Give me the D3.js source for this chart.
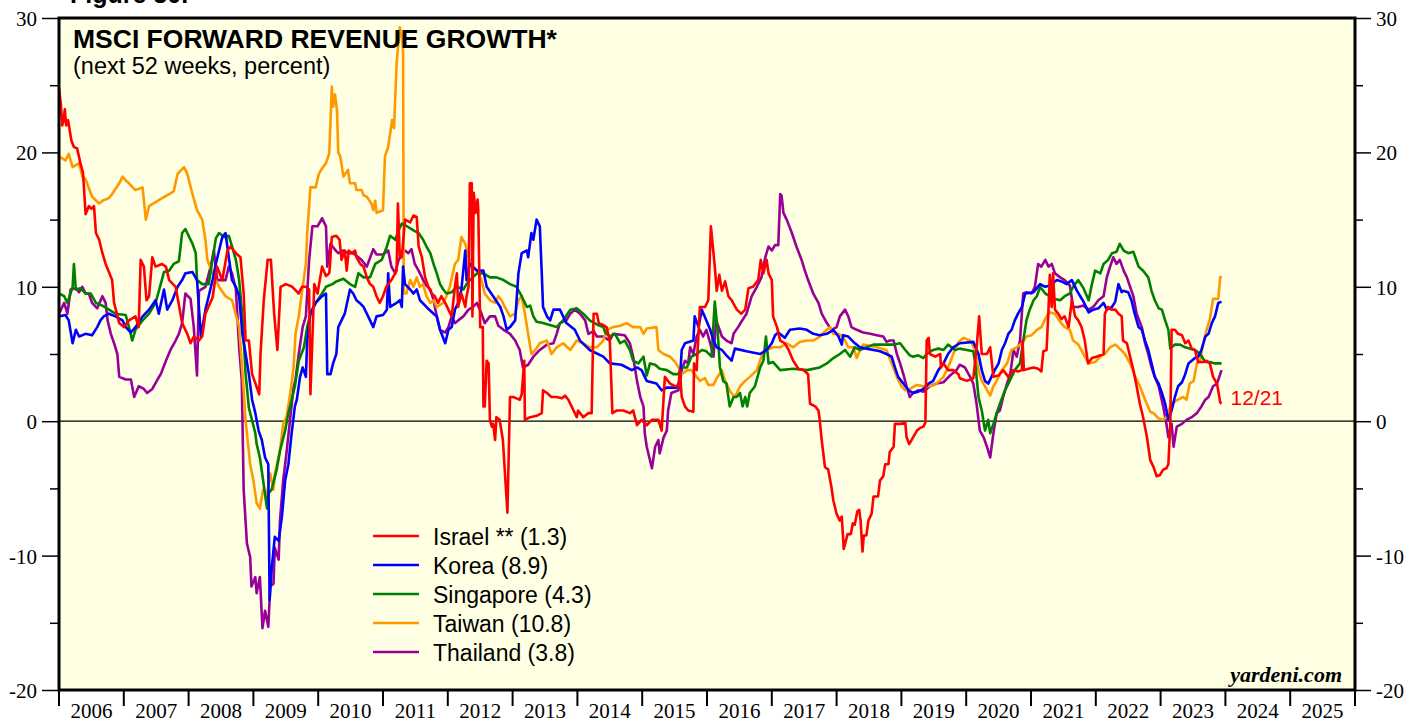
<!DOCTYPE html>
<html lang="en">
<head>
  <meta charset="UTF-8">
  <title>MSCI Forward Revenue Growth</title>
  <script src="https://d3js.org/d3.v7.min.js"></script>
  <style>
    body {
      margin: 0;
      background: #fff;
    }
    svg {
      display: block;
    }
    .axis-label {
      font-family: 'Liberation Serif', 'Times New Roman', serif;
      font-size: 21px;
      fill: #000;
    }
    .sans {
      font-family: 'Liberation Sans', Arial, sans-serif;
    }
  </style>
</head>
<body>
  <svg width="1406" height="719"></svg>

  <script>
    // series: [year fraction, percent]
    const israel = [
      [2006.00,24.8],[2006.03,23.5],[2006.05,22.0],[2006.07,22.4],[2006.09,23.2],[2006.11,22.0],[2006.14,22.4],[2006.19,20.9],
      [2006.23,20.4],[2006.28,20.3],[2006.33,19.2],[2006.37,18.5],[2006.39,17.0],[2006.41,15.4],[2006.46,16.0],[2006.50,15.8],
      [2006.54,16.0],[2006.57,14.0],[2006.62,13.5],[2006.67,12.5],[2006.72,11.7],[2006.82,10.5],[2006.85,8.8],[2006.93,7.3],
      [2007.00,7.0],[2007.08,7.5],[2007.18,7.8],[2007.23,7.0],[2007.26,12.0],[2007.31,11.5],[2007.35,9.0],[2007.39,9.3],
      [2007.44,12.2],[2007.49,11.5],[2007.59,11.7],[2007.65,11.5],[2007.70,10.5],[2007.80,10.0],[2007.90,7.3],[2007.98,6.5],
      [2008.03,5.8],[2008.08,6.3],[2008.16,6.0],[2008.21,6.3],[2008.26,8.0],[2008.37,9.2],[2008.44,11.5],[2008.52,10.5],
      [2008.60,12.7],[2008.65,13.0],[2008.73,12.5],[2008.80,12.2],[2008.85,9.5],[2008.88,6.0],[2008.93,6.0],[2008.98,3.5],
      [2009.09,2.0],[2009.11,5.0],[2009.16,9.0],[2009.22,12.0],[2009.27,12.0],[2009.32,8.0],[2009.37,5.3],[2009.42,10.0],
      [2009.50,10.2],[2009.60,10.0],[2009.70,9.5],[2009.75,10.0],[2009.81,10.0],[2009.86,9.8],[2009.88,2.0],[2009.94,10.2],
      [2009.99,9.5],[2010.06,11.5],[2010.12,10.8],[2010.17,11.0],[2010.18,11.5],[2010.21,13.7],[2010.28,13.8],[2010.33,13.5],
      [2010.36,12.0],[2010.41,12.7],[2010.44,11.2],[2010.47,12.7],[2010.52,12.5],[2010.57,12.7],[2010.59,12.2],[2010.65,11.7],
      [2010.70,11.5],[2010.75,10.7],[2010.80,10.2],[2010.85,10.0],[2010.90,9.3],[2010.95,8.8],[2011.00,9.3],[2011.05,10.0],
      [2011.13,10.5],[2011.21,11.2],[2011.23,16.2],[2011.26,12.2],[2011.29,12.2],[2011.34,15.0],[2011.42,14.8],[2011.47,15.3],
      [2011.52,15.2],[2011.55,13.0],[2011.60,12.2],[2011.65,10.7],[2011.70,10.0],[2011.75,9.5],[2011.80,9.3],[2011.85,8.8],
      [2011.90,9.3],[2011.96,8.8],[2012.01,8.3],[2012.06,7.8],[2012.11,10.0],[2012.14,11.0],[2012.16,8.5],[2012.21,9.5],
      [2012.27,8.5],[2012.29,9.3],[2012.32,10.0],[2012.34,17.7],[2012.37,17.7],[2012.38,7.8],[2012.40,17.0],[2012.43,15.5],
      [2012.46,16.5],[2012.47,15.7],[2012.50,7.0],[2012.54,7.0],[2012.55,1.1],[2012.57,1.1],[2012.60,4.5],[2012.63,4.3],
      [2012.65,0.1],[2012.68,-0.4],[2012.70,-0.2],[2012.73,-1.4],[2012.75,0.3],[2012.80,0.1],[2012.85,-1.4],[2012.92,-6.8],
      [2012.96,1.8],[2013.01,1.8],[2013.06,1.7],[2013.11,1.6],[2013.14,2.0],[2013.18,4.5],[2013.19,0.1],[2013.27,0.3],
      [2013.37,0.4],[2013.45,0.6],[2013.47,2.3],[2013.53,2.1],[2013.60,1.8],[2013.68,1.8],[2013.76,1.7],[2013.81,1.9],
      [2013.86,1.6],[2013.91,1.1],[2013.99,0.3],[2014.01,0.8],[2014.09,0.3],[2014.17,0.6],[2014.22,0.6],[2014.25,8.0],
      [2014.30,8.0],[2014.33,7.3],[2014.38,7.2],[2014.45,7.0],[2014.50,6.0],[2014.54,0.6],[2014.61,0.8],[2014.71,0.8],
      [2014.81,0.6],[2014.86,0.8],[2014.92,-0.3],[2014.99,0.1],[2015.07,-0.3],[2015.15,0.1],[2015.25,0.1],[2015.30,-0.7],
      [2015.35,3.3],[2015.43,2.8],[2015.51,2.6],[2015.56,2.6],[2015.58,3.8],[2015.61,1.8],[2015.66,1.1],[2015.71,0.8],
      [2015.79,0.7],[2015.80,4.3],[2015.84,3.8],[2015.89,8.5],[2015.97,8.5],[2016.02,9.0],[2016.06,14.5],[2016.12,11.5],
      [2016.15,9.7],[2016.19,10.9],[2016.23,9.7],[2016.28,10.4],[2016.33,9.3],[2016.38,9.0],[2016.46,8.3],[2016.53,8.0],
      [2016.59,8.3],[2016.64,9.9],[2016.71,10.0],[2016.79,10.5],[2016.83,12.0],[2016.87,11.0],[2016.92,12.0],[2016.95,11.0],
      [2017.00,10.5],[2017.02,7.8],[2017.08,7.0],[2017.13,6.0],[2017.20,5.8],[2017.26,5.3],[2017.33,4.5],[2017.41,3.9],
      [2017.49,3.8],[2017.56,3.5],[2017.59,1.3],[2017.67,1.1],[2017.72,0.8],[2017.74,0.1],[2017.77,-1.4],[2017.82,-3.4],
      [2017.87,-3.6],[2017.92,-4.9],[2017.95,-5.9],[2018.00,-6.9],[2018.05,-7.4],[2018.08,-7.1],[2018.11,-9.5],[2018.17,-8.4],
      [2018.22,-8.4],[2018.25,-7.6],[2018.28,-7.7],[2018.32,-6.7],[2018.35,-6.6],[2018.37,-7.4],[2018.40,-9.7],[2018.42,-8.5],
      [2018.46,-8.5],[2018.49,-7.4],[2018.54,-6.9],[2018.57,-5.6],[2018.64,-5.6],[2018.67,-4.4],[2018.72,-4.1],[2018.75,-3.2],
      [2018.80,-3.2],[2018.82,-2.3],[2018.88,-1.9],[2018.90,-0.2],[2018.98,-0.2],[2019.06,-0.1],[2019.08,-1.2],[2019.12,-1.7],
      [2019.18,-1.2],[2019.24,-0.7],[2019.29,-0.5],[2019.34,-0.4],[2019.37,-0.1],[2019.39,6.0],[2019.42,6.2],[2019.44,5.0],
      [2019.52,4.8],[2019.60,5.0],[2019.61,4.0],[2019.65,4.3],[2019.72,3.8],[2019.80,3.8],[2019.88,3.5],[2019.90,3.2],
      [2020.01,3.0],[2020.11,3.2],[2020.16,5.5],[2020.20,7.8],[2020.24,5.0],[2020.32,5.0],[2020.37,5.5],[2020.42,3.3],
      [2020.50,3.4],[2020.57,3.8],[2020.65,3.3],[2020.73,3.8],[2020.80,3.7],[2020.86,3.8],[2020.87,6.0],[2020.89,3.8],
      [2020.96,3.9],[2021.04,4.0],[2021.11,3.9],[2021.16,3.7],[2021.19,5.2],[2021.24,5.3],[2021.27,8.3],[2021.29,10.9],
      [2021.32,8.5],[2021.34,11.0],[2021.37,8.3],[2021.42,8.0],[2021.47,7.6],[2021.52,7.8],[2021.58,7.0],[2021.63,9.0],
      [2021.68,7.8],[2021.73,7.5],[2021.78,7.0],[2021.83,6.0],[2021.88,4.3],[2021.94,4.7],[2022.01,4.8],[2022.07,4.9],
      [2022.12,5.0],[2022.14,8.0],[2022.19,8.5],[2022.24,8.3],[2022.30,8.3],[2022.35,8.0],[2022.40,7.8],[2022.42,6.0],
      [2022.48,5.8],[2022.53,4.8],[2022.58,3.8],[2022.63,2.6],[2022.68,1.3],[2022.73,0.3],[2022.79,-1.2],[2022.84,-2.9],
      [2022.89,-3.4],[2022.94,-4.1],[2022.99,-4.0],[2023.04,-3.6],[2023.09,-3.5],[2023.12,-3.2],[2023.15,-0.2],[2023.17,6.8],
      [2023.22,6.8],[2023.27,6.5],[2023.33,6.4],[2023.38,5.8],[2023.43,6.0],[2023.48,5.4],[2023.53,5.3],[2023.58,4.4],
      [2023.66,4.4],[2023.71,4.5],[2023.76,4.3],[2023.81,3.3],[2023.87,2.8],[2023.92,1.4],[2023.94,1.3]
    ];

    const korea = [
      [2006.00,7.8],[2006.10,7.9],[2006.15,7.5],[2006.21,5.8],[2006.26,6.8],[2006.31,6.3],[2006.41,6.5],[2006.51,6.4],
      [2006.59,7.0],[2006.64,7.5],[2006.69,7.8],[2006.77,8.0],[2006.87,7.8],[2006.98,7.5],[2007.03,7.0],[2007.11,6.6],
      [2007.18,7.0],[2007.29,7.8],[2007.39,8.3],[2007.49,9.0],[2007.54,8.0],[2007.62,9.8],[2007.67,8.3],[2007.75,9.0],
      [2007.83,10.0],[2007.90,10.5],[2007.95,11.0],[2008.06,11.1],[2008.13,10.5],[2008.19,6.3],[2008.26,8.3],[2008.31,9.3],
      [2008.37,10.5],[2008.42,11.7],[2008.47,12.7],[2008.52,13.7],[2008.57,14.0],[2008.62,12.2],[2008.67,10.5],[2008.73,10.0],
      [2008.78,9.3],[2008.83,6.5],[2008.88,5.0],[2008.93,3.5],[2008.98,1.6],[2009.03,0.6],[2009.08,-0.7],[2009.13,-1.4],
      [2009.18,-2.7],[2009.23,-3.2],[2009.25,-13.3],[2009.28,-11.1],[2009.33,-8.6],[2009.39,-8.9],[2009.44,-7.1],[2009.49,-4.4],
      [2009.54,-3.2],[2009.59,-0.9],[2009.64,1.1],[2009.67,1.6],[2009.72,3.3],[2009.76,4.0],[2009.81,3.3],[2009.83,6.0],
      [2009.88,8.0],[2009.96,8.8],[2010.06,9.3],[2010.12,9.5],[2010.14,3.5],[2010.19,3.5],[2010.23,4.3],[2010.28,5.0],
      [2010.31,7.0],[2010.36,7.5],[2010.41,8.0],[2010.49,9.8],[2010.54,9.5],[2010.59,9.0],[2010.64,8.8],[2010.70,8.5],
      [2010.75,8.0],[2010.80,7.5],[2010.85,7.0],[2010.90,7.8],[2011.00,7.9],[2011.06,8.3],[2011.08,11.0],[2011.11,8.5],
      [2011.21,8.8],[2011.26,9.0],[2011.29,8.5],[2011.31,11.5],[2011.34,10.2],[2011.42,9.8],[2011.47,9.5],[2011.52,9.8],
      [2011.57,9.0],[2011.67,8.5],[2011.78,8.0],[2011.83,7.8],[2011.88,6.8],[2011.96,5.8],[2012.01,6.8],[2012.06,7.0],
      [2012.11,8.3],[2012.16,8.8],[2012.21,9.8],[2012.27,12.7],[2012.29,10.5],[2012.34,11.7],[2012.45,11.2],[2012.55,11.2],
      [2012.60,10.0],[2012.70,9.3],[2012.81,8.5],[2012.86,7.8],[2012.91,6.8],[2012.96,7.0],[2013.04,7.5],[2013.09,11.0],
      [2013.14,12.5],[2013.22,12.7],[2013.24,12.2],[2013.29,14.0],[2013.32,13.5],[2013.37,15.0],[2013.42,14.5],[2013.45,11.0],
      [2013.47,8.5],[2013.53,7.8],[2013.58,7.5],[2013.63,8.3],[2013.73,8.3],[2013.83,7.3],[2013.96,6.8],[2014.04,6.0],
      [2014.19,5.3],[2014.40,4.8],[2014.50,4.3],[2014.68,4.2],[2014.84,3.8],[2014.92,4.0],[2014.99,3.8],[2015.07,3.0],
      [2015.22,2.8],[2015.30,2.3],[2015.38,2.5],[2015.53,2.5],[2015.58,3.0],[2015.61,5.3],[2015.66,5.8],[2015.79,6.0],
      [2015.81,7.8],[2015.87,7.0],[2015.92,8.3],[2015.99,7.5],[2016.05,6.8],[2016.10,6.0],[2016.15,5.5],[2016.23,5.3],
      [2016.30,4.9],[2016.38,4.5],[2016.43,5.4],[2016.61,5.2],[2016.82,5.0],[2016.92,5.3],[2017.00,5.8],[2017.05,6.4],
      [2017.10,6.6],[2017.20,6.2],[2017.28,6.8],[2017.43,6.9],[2017.54,6.8],[2017.64,6.5],[2017.74,6.4],[2017.85,6.5],
      [2017.95,6.8],[2018.03,6.3],[2018.08,5.7],[2018.10,6.4],[2018.18,6.3],[2018.26,5.9],[2018.36,5.5],[2018.46,5.4],
      [2018.57,5.3],[2018.67,5.2],[2018.77,5.0],[2018.85,4.8],[2018.90,4.0],[2018.95,3.3],[2019.03,2.8],[2019.11,2.3],
      [2019.18,2.1],[2019.26,2.2],[2019.34,2.4],[2019.42,2.8],[2019.49,3.0],[2019.57,3.8],[2019.65,4.3],[2019.72,5.0],
      [2019.80,5.5],[2019.90,5.8],[2020.11,5.9],[2020.19,5.0],[2020.24,3.8],[2020.29,3.0],[2020.34,2.8],[2020.39,3.3],
      [2020.44,3.8],[2020.50,4.3],[2020.55,5.3],[2020.60,5.8],[2020.65,6.5],[2020.70,6.8],[2020.75,7.5],[2020.80,8.0],
      [2020.86,8.5],[2020.91,9.5],[2021.04,9.6],[2021.09,9.9],[2021.14,10.2],[2021.22,10.0],[2021.29,10.1],[2021.40,10.5],
      [2021.47,10.4],[2021.55,10.2],[2021.63,10.5],[2021.71,9.7],[2021.76,9.3],[2021.81,8.9],[2021.89,8.1],[2021.96,8.3],
      [2022.04,8.4],[2022.12,8.8],[2022.17,8.3],[2022.25,8.5],[2022.30,8.9],[2022.35,10.2],[2022.40,9.6],[2022.42,9.7],
      [2022.50,9.6],[2022.55,9.0],[2022.60,8.0],[2022.66,7.0],[2022.71,6.8],[2022.76,6.0],[2022.81,5.3],[2022.86,4.3],
      [2022.91,3.3],[2022.97,2.8],[2023.02,2.1],[2023.07,1.3],[2023.12,0.1],[2023.17,0.8],[2023.22,1.8],[2023.27,2.6],
      [2023.33,2.9],[2023.38,3.5],[2023.43,4.3],[2023.53,4.7],[2023.58,4.8],[2023.63,5.3],[2023.69,6.3],[2023.74,6.5],
      [2023.79,7.3],[2023.84,7.8],[2023.89,8.8],[2023.94,8.9]
    ];

    const singapore = [
      [2006.00,9.5],[2006.08,9.3],[2006.13,8.8],[2006.21,10.0],[2006.23,11.7],[2006.26,9.8],[2006.33,9.9],[2006.41,9.5],
      [2006.49,9.5],[2006.57,8.8],[2006.67,8.6],[2006.77,8.3],[2006.87,8.0],[2007.03,7.9],[2007.08,7.0],[2007.13,6.0],
      [2007.18,6.8],[2007.29,7.5],[2007.39,8.0],[2007.49,8.8],[2007.57,10.2],[2007.62,11.1],[2007.70,11.2],[2007.77,11.7],
      [2007.85,11.9],[2007.90,14.0],[2007.95,14.3],[2008.01,13.7],[2008.06,13.2],[2008.11,12.5],[2008.13,10.5],[2008.21,10.2],
      [2008.31,10.2],[2008.42,13.6],[2008.47,14.0],[2008.55,13.7],[2008.62,13.8],[2008.67,13.0],[2008.73,12.0],[2008.78,10.5],
      [2008.83,7.8],[2008.88,3.5],[2008.93,1.0],[2009.03,-0.9],[2009.05,-1.7],[2009.10,-2.7],[2009.15,-4.4],[2009.21,-6.5],
      [2009.23,-5.4],[2009.28,-5.1],[2009.36,-3.6],[2009.41,-2.2],[2009.49,-0.7],[2009.54,0.6],[2009.59,1.6],[2009.64,2.6],
      [2009.70,4.5],[2009.78,5.5],[2009.83,7.0],[2009.88,8.0],[2009.96,8.8],[2010.06,9.5],[2010.12,10.0],[2010.22,10.2],
      [2010.28,10.4],[2010.39,10.6],[2010.49,10.2],[2010.57,10.0],[2010.62,11.0],[2010.70,10.7],[2010.80,10.7],[2010.88,11.7],
      [2010.98,12.0],[2011.06,13.0],[2011.11,13.8],[2011.19,13.5],[2011.24,14.2],[2011.29,14.7],[2011.34,14.6],[2011.47,14.2],
      [2011.55,14.0],[2011.62,13.5],[2011.67,13.0],[2011.73,12.5],[2011.78,11.7],[2011.83,11.0],[2011.88,10.2],[2011.93,9.8],
      [2011.98,9.5],[2012.06,9.6],[2012.14,10.0],[2012.24,9.8],[2012.29,10.2],[2012.34,10.5],[2012.45,11.0],[2012.55,11.0],
      [2012.65,10.7],[2012.75,10.7],[2012.86,10.5],[2012.96,10.2],[2013.06,10.0],[2013.14,9.3],[2013.22,8.5],[2013.27,8.6],
      [2013.32,7.8],[2013.37,7.4],[2013.47,7.3],[2013.68,7.0],[2013.78,7.5],[2013.89,8.3],[2013.99,8.4],[2014.09,8.0],
      [2014.19,7.5],[2014.30,7.2],[2014.40,7.0],[2014.43,6.6],[2014.50,6.3],[2014.58,6.5],[2014.66,5.8],[2014.73,6.0],
      [2014.81,5.3],[2014.86,4.5],[2014.94,4.3],[2015.02,4.8],[2015.07,3.4],[2015.12,4.3],[2015.20,4.2],[2015.27,3.9],
      [2015.38,3.8],[2015.48,3.5],[2015.56,3.5],[2015.61,4.0],[2015.69,4.0],[2015.76,4.8],[2015.84,5.0],[2015.92,5.3],
      [2015.99,5.2],[2016.07,4.8],[2016.12,8.9],[2016.16,7.0],[2016.20,4.0],[2016.25,3.0],[2016.30,2.8],[2016.35,1.1],
      [2016.41,1.8],[2016.46,1.8],[2016.51,2.1],[2016.55,1.1],[2016.59,1.8],[2016.62,1.1],[2016.66,2.1],[2016.74,2.6],
      [2016.82,4.0],[2016.87,4.5],[2016.91,6.3],[2016.95,4.3],[2017.02,4.4],[2017.13,3.8],[2017.33,3.9],[2017.54,3.8],
      [2017.74,4.0],[2017.85,4.3],[2017.95,4.7],[2018.05,5.0],[2018.13,5.3],[2018.21,4.8],[2018.28,5.5],[2018.36,5.3],
      [2018.46,5.5],[2018.57,5.7],[2018.67,5.7],[2018.88,5.7],[2018.98,5.8],[2019.06,5.3],[2019.13,4.9],[2019.18,4.8],
      [2019.26,4.9],[2019.34,4.7],[2019.39,5.0],[2019.49,5.3],[2019.57,5.4],[2019.65,5.3],[2019.72,5.7],[2019.83,5.3],
      [2019.90,5.4],[2020.01,5.3],[2020.11,5.2],[2020.14,4.3],[2020.19,1.8],[2020.24,0.8],[2020.29,-0.7],[2020.34,0.1],
      [2020.37,-0.9],[2020.42,-0.2],[2020.47,0.6],[2020.52,1.3],[2020.60,2.3],[2020.65,2.8],[2020.70,3.3],[2020.75,3.8],
      [2020.83,4.3],[2020.88,6.0],[2020.93,7.5],[2020.98,8.3],[2021.04,9.0],[2021.09,9.3],[2021.14,10.0],[2021.22,9.5],
      [2021.29,9.3],[2021.37,9.1],[2021.45,9.0],[2021.52,9.3],[2021.60,9.5],[2021.65,10.0],[2021.73,10.5],[2021.81,9.9],
      [2021.89,9.0],[2021.94,10.2],[2021.99,11.2],[2022.07,11.0],[2022.12,11.7],[2022.19,12.0],[2022.25,12.5],[2022.32,12.6],
      [2022.37,13.2],[2022.43,12.7],[2022.50,12.5],[2022.58,12.6],[2022.66,11.5],[2022.73,11.2],[2022.81,10.7],[2022.86,9.7],
      [2022.91,9.0],[2022.97,8.4],[2023.02,8.3],[2023.07,7.5],[2023.12,6.8],[2023.15,5.4],[2023.22,5.7],[2023.30,5.7],
      [2023.38,5.5],[2023.45,5.4],[2023.53,5.3],[2023.61,5.0],[2023.69,4.4],[2023.76,4.4],[2023.84,4.3],[2023.94,4.3]
    ];

    const taiwan = [
      [2006.00,19.7],[2006.10,19.4],[2006.15,19.9],[2006.21,18.9],[2006.31,19.2],[2006.36,18.2],[2006.41,18.0],[2006.51,16.7],
      [2006.62,16.2],[2006.67,16.4],[2006.77,16.6],[2006.82,16.9],[2006.93,17.7],[2006.98,18.2],[2007.03,17.9],[2007.08,17.7],
      [2007.18,17.2],[2007.29,17.4],[2007.34,15.0],[2007.39,16.0],[2007.49,16.3],[2007.59,16.6],[2007.70,16.9],[2007.77,17.1],
      [2007.83,18.4],[2007.93,18.9],[2007.98,18.4],[2008.06,16.9],[2008.13,15.7],[2008.21,15.0],[2008.26,13.5],[2008.29,12.0],
      [2008.37,11.0],[2008.47,10.0],[2008.57,9.3],[2008.67,9.0],[2008.78,7.0],[2008.84,3.0],[2008.88,0.0],[2008.95,-3.2],
      [2009.00,-4.4],[2009.05,-6.1],[2009.10,-6.5],[2009.15,-5.1],[2009.21,-5.4],[2009.26,-3.9],[2009.31,-5.1],[2009.33,-3.9],
      [2009.41,-2.2],[2009.46,-0.2],[2009.51,0.3],[2009.57,2.1],[2009.62,4.0],[2009.65,6.5],[2009.70,7.8],[2009.76,10.0],
      [2009.81,11.7],[2009.83,14.0],[2009.88,17.4],[2009.96,17.4],[2010.01,18.4],[2010.06,18.8],[2010.12,19.2],[2010.17,19.9],
      [2010.21,24.9],[2010.23,23.4],[2010.26,24.3],[2010.29,23.1],[2010.31,20.0],[2010.34,19.7],[2010.39,18.2],[2010.46,18.7],
      [2010.49,17.7],[2010.57,17.7],[2010.59,17.2],[2010.67,17.2],[2010.70,16.8],[2010.75,16.7],[2010.82,16.2],[2010.85,15.7],
      [2010.88,16.4],[2010.90,15.5],[2011.00,15.7],[2011.03,19.7],[2011.08,20.4],[2011.14,22.4],[2011.17,21.8],[2011.21,26.6],
      [2011.26,29.3],[2011.29,28.6],[2011.31,27.5],[2011.32,9.5],[2011.36,9.5],[2011.42,10.5],[2011.47,10.0],[2011.52,10.7],
      [2011.57,10.0],[2011.62,10.2],[2011.67,9.3],[2011.73,8.8],[2011.78,9.0],[2011.83,8.5],[2011.93,8.8],[2011.98,9.3],
      [2012.03,10.0],[2012.11,11.7],[2012.16,12.0],[2012.21,13.7],[2012.27,13.2],[2012.32,12.2],[2012.39,11.5],[2012.45,11.2],
      [2012.52,10.5],[2012.57,9.5],[2012.65,9.0],[2012.73,8.8],[2012.78,9.3],[2012.83,9.0],[2012.88,8.5],[2012.96,7.8],
      [2013.04,8.0],[2013.09,9.0],[2013.14,9.3],[2013.19,8.0],[2013.24,6.5],[2013.29,5.0],[2013.35,5.3],[2013.42,5.8],
      [2013.53,6.0],[2013.60,5.0],[2013.68,5.5],[2013.78,5.8],[2013.89,5.3],[2013.99,6.0],[2014.09,5.8],[2014.19,5.5],
      [2014.30,5.5],[2014.40,6.0],[2014.45,6.8],[2014.55,7.0],[2014.66,7.1],[2014.76,7.3],[2014.86,7.0],[2014.97,7.0],
      [2015.02,6.5],[2015.07,6.9],[2015.22,7.0],[2015.25,5.3],[2015.33,5.0],[2015.43,4.8],[2015.51,4.4],[2015.56,4.0],
      [2015.61,3.5],[2015.69,3.8],[2015.76,3.8],[2015.84,3.3],[2015.89,3.0],[2015.97,3.2],[2016.02,2.7],[2016.10,2.7],
      [2016.15,3.2],[2016.23,3.8],[2016.28,3.0],[2016.36,2.2],[2016.43,1.8],[2016.51,2.6],[2016.59,3.0],[2016.66,3.3],
      [2016.77,3.8],[2016.84,4.8],[2016.92,5.3],[2017.02,5.5],[2017.13,5.5],[2017.23,5.8],[2017.33,5.5],[2017.43,5.9],
      [2017.54,6.0],[2017.64,6.0],[2017.74,6.3],[2017.85,6.8],[2017.90,7.0],[2017.95,6.5],[2018.03,6.5],[2018.10,6.3],
      [2018.18,5.5],[2018.26,5.5],[2018.31,4.7],[2018.36,5.3],[2018.41,5.7],[2018.62,5.5],[2018.77,5.3],[2018.85,4.3],
      [2018.93,3.3],[2019.00,2.6],[2019.06,2.3],[2019.13,2.4],[2019.24,2.7],[2019.34,2.6],[2019.44,2.6],[2019.54,2.8],
      [2019.65,3.3],[2019.72,4.0],[2019.80,5.0],[2019.88,5.9],[2019.96,6.2],[2020.06,6.0],[2020.14,5.3],[2020.19,3.8],
      [2020.24,3.0],[2020.29,2.6],[2020.37,1.9],[2020.42,2.6],[2020.47,3.0],[2020.55,3.8],[2020.63,4.3],[2020.70,5.3],
      [2020.78,5.5],[2020.86,5.8],[2020.93,6.3],[2021.01,6.4],[2021.09,6.8],[2021.16,7.0],[2021.24,7.8],[2021.29,8.1],
      [2021.37,8.0],[2021.45,7.4],[2021.52,7.0],[2021.60,6.8],[2021.65,6.0],[2021.73,5.7],[2021.81,5.0],[2021.89,4.3],
      [2021.99,4.4],[2022.07,4.8],[2022.14,5.0],[2022.22,5.5],[2022.30,5.7],[2022.37,5.4],[2022.45,5.0],[2022.53,4.3],
      [2022.61,3.3],[2022.68,2.6],[2022.76,1.6],[2022.84,0.7],[2022.89,0.6],[2022.97,0.2],[2023.04,0.1],[2023.09,0.3],
      [2023.15,1.1],[2023.20,1.4],[2023.27,1.6],[2023.35,1.8],[2023.40,1.6],[2023.45,2.8],[2023.51,3.0],[2023.56,4.3],
      [2023.61,4.5],[2023.66,5.8],[2023.71,6.8],[2023.76,7.6],[2023.81,9.1],[2023.89,9.1],[2023.92,10.7],[2023.94,10.8]
    ];

    const thailand = [
      [2006.00,8.0],[2006.08,8.8],[2006.13,8.0],[2006.18,9.8],[2006.26,9.9],[2006.31,9.6],[2006.36,10.0],[2006.41,9.5],
      [2006.46,9.5],[2006.51,8.8],[2006.59,8.4],[2006.67,9.3],[2006.72,8.8],[2006.75,7.5],[2006.80,6.5],[2006.85,5.8],
      [2006.90,5.0],[2006.93,3.3],[2007.03,3.1],[2007.11,3.1],[2007.16,1.8],[2007.23,2.6],[2007.31,2.4],[2007.36,2.1],
      [2007.44,2.4],[2007.52,3.1],[2007.57,3.5],[2007.65,4.5],[2007.72,5.3],[2007.80,6.0],[2007.85,6.5],[2007.90,7.3],
      [2007.95,9.5],[2008.03,9.1],[2008.08,7.0],[2008.13,3.4],[2008.16,9.7],[2008.26,10.0],[2008.34,11.5],[2008.39,12.7],
      [2008.44,10.5],[2008.57,10.5],[2008.62,11.5],[2008.67,11.0],[2008.73,9.8],[2008.78,5.5],[2008.82,3.1],[2008.85,-5.1],
      [2008.90,-9.1],[2008.95,-10.1],[2008.97,-12.3],[2009.03,-11.6],[2009.05,-12.8],[2009.10,-11.6],[2009.14,-15.4],[2009.18,-14.1],
      [2009.23,-15.3],[2009.26,-12.3],[2009.31,-12.1],[2009.33,-9.4],[2009.39,-10.3],[2009.41,-7.4],[2009.46,-4.4],[2009.51,-2.4],
      [2009.57,0.3],[2009.62,2.5],[2009.65,3.1],[2009.70,5.0],[2009.76,7.0],[2009.81,7.8],[2009.86,12.0],[2009.91,14.5],
      [2009.99,14.5],[2010.06,15.1],[2010.12,14.5],[2010.14,11.5],[2010.19,13.2],[2010.27,12.7],[2010.31,12.5],[2010.39,12.7],
      [2010.46,12.5],[2010.54,12.5],[2010.62,12.2],[2010.67,12.0],[2010.75,11.5],[2010.85,12.8],[2010.90,12.4],[2011.00,12.4],
      [2011.08,12.7],[2011.13,11.5],[2011.19,11.0],[2011.24,12.0],[2011.34,12.7],[2011.39,12.5],[2011.44,12.8],[2011.49,11.7],
      [2011.55,11.2],[2011.60,10.7],[2011.65,10.2],[2011.73,9.8],[2011.78,9.0],[2011.83,7.8],[2011.88,6.8],[2011.96,6.6],
      [2012.01,7.0],[2012.06,7.8],[2012.11,7.3],[2012.16,7.5],[2012.24,7.8],[2012.32,8.3],[2012.39,8.5],[2012.45,8.8],
      [2012.52,8.0],[2012.57,7.3],[2012.65,7.8],[2012.73,7.8],[2012.78,7.1],[2012.86,6.8],[2012.96,6.5],[2013.04,6.0],
      [2013.11,5.3],[2013.16,4.0],[2013.24,4.2],[2013.32,4.8],[2013.42,5.3],[2013.53,5.7],[2013.63,5.8],[2013.68,6.5],
      [2013.73,7.3],[2013.83,7.5],[2013.89,8.0],[2013.96,8.3],[2014.04,8.0],[2014.12,7.5],[2014.17,6.5],[2014.25,6.7],
      [2014.30,6.3],[2014.40,6.3],[2014.50,6.0],[2014.55,6.5],[2014.73,6.4],[2014.81,5.8],[2014.86,4.8],[2014.92,3.0],
      [2014.97,1.8],[2015.02,1.1],[2015.04,-0.9],[2015.07,-1.9],[2015.11,-2.7],[2015.15,-3.5],[2015.20,-1.9],[2015.25,-1.4],
      [2015.27,-2.4],[2015.33,-1.2],[2015.38,-0.7],[2015.40,0.8],[2015.45,2.1],[2015.56,2.3],[2015.61,3.8],[2015.66,4.5],
      [2015.71,4.3],[2015.74,5.5],[2015.79,5.0],[2015.84,6.3],[2015.89,6.8],[2015.94,6.3],[2015.99,6.8],[2016.05,5.8],
      [2016.10,4.8],[2016.14,7.5],[2016.18,7.0],[2016.23,6.3],[2016.30,6.0],[2016.38,5.8],[2016.41,6.5],[2016.48,7.0],
      [2016.53,7.4],[2016.61,8.0],[2016.69,9.3],[2016.77,10.0],[2016.84,10.7],[2016.90,12.2],[2016.95,13.0],[2017.00,12.7],
      [2017.05,13.1],[2017.10,13.1],[2017.13,16.9],[2017.15,16.8],[2017.18,15.5],[2017.23,15.0],[2017.31,14.0],[2017.38,13.0],
      [2017.46,12.0],[2017.51,11.2],[2017.56,10.5],[2017.64,9.5],[2017.72,8.8],[2017.77,8.0],[2017.85,7.3],[2017.92,6.8],
      [2018.00,7.0],[2018.05,7.8],[2018.13,8.3],[2018.18,7.8],[2018.23,7.0],[2018.31,6.8],[2018.41,6.6],[2018.52,6.5],
      [2018.62,6.4],[2018.72,6.3],[2018.77,5.9],[2018.82,6.0],[2018.88,6.0],[2018.93,5.0],[2018.98,4.3],[2019.03,3.5],
      [2019.08,2.6],[2019.13,1.8],[2019.18,2.1],[2019.26,2.3],[2019.34,2.2],[2019.44,2.6],[2019.54,2.8],[2019.65,2.9],
      [2019.75,3.4],[2019.85,3.8],[2019.90,4.2],[2019.98,4.0],[2020.06,3.3],[2020.11,2.8],[2020.16,1.3],[2020.21,-0.7],
      [2020.27,-1.2],[2020.32,-1.9],[2020.37,-2.7],[2020.42,-0.9],[2020.47,0.6],[2020.52,0.8],[2020.57,1.8],[2020.63,2.8],
      [2020.68,3.5],[2020.73,5.3],[2020.78,4.8],[2020.83,6.0],[2020.88,9.5],[2020.93,9.6],[2021.01,9.5],[2021.06,10.0],
      [2021.11,11.7],[2021.16,11.5],[2021.22,12.0],[2021.27,11.5],[2021.32,11.7],[2021.37,11.0],[2021.45,10.7],[2021.52,10.5],
      [2021.60,10.1],[2021.65,8.5],[2021.73,8.5],[2021.81,8.6],[2021.89,8.3],[2021.96,8.5],[2022.04,9.0],[2022.12,9.3],
      [2022.17,10.7],[2022.22,11.5],[2022.27,12.2],[2022.32,11.7],[2022.37,12.0],[2022.43,11.2],[2022.48,10.7],[2022.53,10.0],
      [2022.58,9.3],[2022.63,8.0],[2022.71,7.0],[2022.76,5.8],[2022.81,5.0],[2022.86,4.0],[2022.91,3.3],[2022.97,2.6],
      [2023.04,1.1],[2023.09,-0.2],[2023.12,-1.2],[2023.17,-0.2],[2023.20,-1.9],[2023.25,-0.4],[2023.33,-0.2],[2023.40,0.1],
      [2023.48,0.3],[2023.56,0.6],[2023.63,1.1],[2023.69,1.6],[2023.74,1.8],[2023.81,2.6],[2023.87,2.8],[2023.92,3.5],
      [2023.94,3.8]
    ];

    const seriesNames = ["Israel ** (1.3)", "Korea (8.9)", "Singapore (4.3)", "Taiwan (10.8)", "Thailand (3.8)"];
    const seriesColors = ["#ff0000", "#0000ff", "#008000", "#ff9900", "#990099"];
    const yTicks = [-20, -10, 0, 10, 20, 30];
    const yMinorTicks = [-15, -5, 5, 15, 25];
    const years = d3.range(2006, 2026);
    const lastDateLabel = "12/21";

    const svg = d3.select("svg"),
          margin = {top: 18, right: 51, bottom: 29, left: 59},
          width = +svg.attr("width") - margin.left - margin.right,
          height = +svg.attr("height") - margin.top - margin.bottom,
          chart = svg.append("g").attr("transform", `translate(${margin.left},${margin.top})`);

    const x = d3.scaleLinear().domain([2006, 2026]).range([0, width]);
    const y = d3.scaleLinear().domain([-20, 30]).range([height, 0]);

    // plain hyphen for negatives, like the original
    const fmt = d => String(d);

    // "Figure" caption, cut by the top edge
    svg.append("text")
      .attr("class", "sans")
      .attr("x", 70).attr("y", 3)
      .style("font-size", "25px").style("font-weight", "bold")
      .text("Figure 30.");

    chart.append("rect")
      .attr("width", width).attr("height", height)
      .attr("fill", "#ffffe3");

    chart.append("clipPath").attr("id", "plot-clip")
      .append("rect").attr("width", width).attr("height", height);

    // left axis
    const left = chart.append("g").call(
      d3.axisLeft(y).tickValues(yTicks).tickSize(17).tickPadding(5).tickFormat(fmt));
    left.append("g").call(d3.axisLeft(y).tickValues(yMinorTicks).tickSize(9).tickFormat(""));

    // right axis
    const right = chart.append("g").attr("transform", `translate(${width},0)`).call(
      d3.axisRight(y).tickValues(yTicks).tickSize(16).tickPadding(5).tickFormat(fmt));
    right.append("g").call(d3.axisRight(y).tickValues(yMinorTicks).tickSize(8).tickFormat(""));

    chart.selectAll(".domain").remove();
    chart.selectAll(".tick line").attr("stroke", "#000").attr("stroke-width", 1.5);
    chart.selectAll(".tick text")
      .attr("class", "axis-label")
      .attr("dy", "0.36em");

    // bottom year axis: ticks at year boundaries, labels centred in each year
    const bottom = chart.append("g").attr("transform", `translate(0,${height})`);
    bottom.selectAll("line")
      .data(years.concat([2026]))
      .enter().append("line")
        .attr("x1", d => x(d)).attr("x2", d => x(d))
        .attr("y1", 0).attr("y2", 16)
        .attr("stroke", "#000").attr("stroke-width", 2);
    bottom.selectAll("text")
      .data(years)
      .enter().append("text")
        .attr("class", "axis-label")
        .attr("x", d => x(d + 0.5))
        .attr("y", 28)
        .attr("text-anchor", "middle")
        .text(d => d);

    // zero line
    chart.append("line")
      .attr("x1", 0).attr("x2", width)
      .attr("y1", y(0)).attr("y2", y(0))
      .attr("stroke", "#000").attr("stroke-width", 1.3);

    const line = d3.line()
      .x(d => x(d[0]))
      .y(d => y(d[1]));

    const allSeries = [israel, korea, singapore, taiwan, thailand];
    const lines = chart.append("g").attr("clip-path", "url(#plot-clip)");
    // draw Thailand first so Israel ends up on top
    [4, 3, 2, 1, 0].forEach(i => {
      lines.append("path")
        .datum(allSeries[i])
        .attr("fill", "none")
        .attr("stroke", seriesColors[i])
        .attr("stroke-width", 2.6)
        .attr("stroke-linejoin", "round")
        .attr("d", line);
    });

    // frame
    chart.append("rect")
      .attr("width", width).attr("height", height)
      .attr("fill", "none")
      .attr("stroke", "#000").attr("stroke-width", 3);

    // titles
    chart.append("text")
      .attr("class", "sans")
      .attr("x", 14).attr("y", 30)
      .style("font-size", "26.5px").style("font-weight", "bold")
      .text("MSCI FORWARD REVENUE GROWTH*");
    chart.append("text")
      .attr("class", "sans")
      .attr("x", 14).attr("y", 56)
      .style("font-size", "23.5px")
      .text("(next 52 weeks, percent)");

    // legend
    const legend = chart.append("g").attr("transform", "translate(314,518)");
    seriesNames.forEach((name, i) => {
      legend.append("line")
        .attr("x1", 0).attr("x2", 46)
        .attr("y1", i * 29).attr("y2", i * 29)
        .attr("stroke", seriesColors[i]).attr("stroke-width", 2.6);
      legend.append("text")
        .attr("class", "sans")
        .attr("x", 60).attr("y", i * 29 + 9)
        .style("font-size", "23px")
        .text(name);
    });

    // last date label
    const lastPt = israel[israel.length - 1];
    chart.append("text")
      .attr("class", "sans")
      .attr("x", x(lastPt[0]) + 9)
      .attr("y", y(lastPt[1]) + 1)
      .attr("fill", "#ff0000")
      .style("font-size", "21px")
      .text(lastDateLabel);

    chart.append("text")
      .attr("x", width - 13).attr("y", height - 8)
      .attr("text-anchor", "end")
      .style("font-family", "'Liberation Serif', 'Times New Roman', serif")
      .style("font-size", "22px").style("font-weight", "bold").style("font-style", "italic")
      .text("yardeni.com");
  </script>
</body>
</html>
